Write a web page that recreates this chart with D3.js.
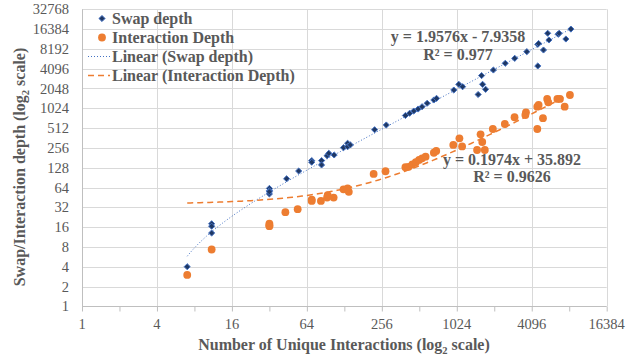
<!DOCTYPE html>
<html>
<head>
<meta charset="utf-8">
<script src="https://cdn.jsdelivr.net/npm/d3@7"></script>
<style>
  body { margin: 0; background: #fff; }
  svg { display: block; }
</style>
</head>
<body>
<div id="chart"></div>
<script>
// Swap depth data
const swapX = [7, 11, 11, 11, 32, 32, 32, 32, 44, 55, 70, 70, 84, 84, 93, 96, 106, 126, 136, 136, 143,
  224, 278, 396, 428, 462, 501, 539, 592, 670, 704, 969, 1063, 1140, 1620, 1650, 1520, 1745, 2015,
  2510, 2990, 3740, 4580, 4650, 4580, 5090, 5500, 5630, 6670, 6800, 7700, 8450];
const swapY = [4, 18, 16.5, 13, 62, 57, 51, 55, 87, 114, 164, 155, 164, 141, 195, 212, 200, 258, 301, 267, 284,
  484, 571, 795, 860, 930, 998, 1083, 1220, 1370, 1450, 1940, 2370, 2180, 3220, 2370, 1660, 1990, 3910,
  4950, 5890, 7430, 9620, 9900, 4510, 7880, 14150, 11200, 13680, 14150, 11580, 16400];

// Interaction depth data
const interX = [7, 11, 32, 32, 32, 43, 54, 70, 70, 83, 93, 94, 105, 126, 136, 139, 220, 274, 396, 420, 450,
  480, 510, 539, 575, 670, 700, 960, 1075, 1130, 1490, 1590, 1640, 1720, 1995, 2490, 2980, 3680, 3640,
  4540, 4650, 4540, 5040, 5450, 5560, 6580, 6900, 7530, 8300];
const interY = [3, 7.3, 18, 17, 16.5, 27, 30, 42, 40, 40, 45, 49, 45, 60, 62, 55, 103, 113, 130, 132, 144,
  155, 168, 178, 188, 216, 230, 284, 358, 270, 238, 412, 315, 238, 496, 591, 748, 890, 810,
  1083, 1150, 496, 724, 1420, 1262, 1420, 1420, 1083, 1630];

// Trendline coefficients [slope, intercept] and labels
const swapFit = [1.9576, -7.9358];
const interFit = [0.1974, 35.892];
const fitLabels = ["y = 1.9576x - 7.9358", "R\u00b2 = 0.977", "y = 0.1974x + 35.892", "R\u00b2 = 0.9626"];

// Tick labels
const xTicks = [1, 4, 16, 64, 256, 1024, 4096, 16384];
const yTicks = [1, 2, 4, 8, 16, 32, 64, 128, 256, 512, 1024, 2048, 4096, 8192, 16384, 32768];
const legendNames = ["Swap depth", "Interaction Depth", "Linear (Swap depth)", "Linear (Interaction Depth)"];

const width = 639, height = 355;
const textCol = "#595959";
const blue = "#4472C4", navy = "#1F3864", orange = "#ED7D31";

const svg = d3.select("#chart").append("svg")
  .attr("width", width)
  .attr("height", height)
  .attr("font-family", "'Liberation Serif', 'Times New Roman', serif");

// Scales
const x = d3.scaleLog().base(2).domain([1, 16384]).range([82, 606.7]);
const y = d3.scaleLog().base(2).domain([1, 32768]).range([306.3, 9.3]);

// Gridlines
const grid = svg.append("g").attr("stroke", "#D9D9D9").attr("stroke-width", 1);
grid.selectAll(".hgrid")
  .data(yTicks.slice(1))
  .join("line")
  .attr("x1", x(1)).attr("x2", x(16384))
  .attr("y1", d => Math.round(y(d)) + 0.5).attr("y2", d => Math.round(y(d)) + 0.5);
grid.selectAll(".vgrid")
  .data(xTicks.slice(1))
  .join("line")
  .attr("y1", y(1)).attr("y2", y(32768))
  .attr("x1", d => Math.round(x(d)) + 0.5).attr("x2", d => Math.round(x(d)) + 0.5);

// Axes
const xAxis = svg.append("g")
  .attr("transform", `translate(0,${Math.round(y(1)) + 0.5})`)
  .call(d3.axisBottom(x).tickValues(d3.range(0, 15).map(i => 2 ** i)).tickSize(5).tickFormat(""));
xAxis.select(".domain").attr("stroke", "#BFBFBF").attr("d", `M${x(1)},0H${x(16384)}`);
xAxis.selectAll(".tick line").attr("stroke", "#BFBFBF");

svg.append("line")
  .attr("x1", Math.round(x(1)) + 0.5).attr("x2", Math.round(x(1)) + 0.5)
  .attr("y1", y(1)).attr("y2", y(32768))
  .attr("stroke", "#BFBFBF");

svg.append("g")
  .attr("fill", textCol).attr("font-size", 14.5).attr("text-anchor", "middle")
  .selectAll("text")
  .data(xTicks)
  .join("text")
  .attr("x", d => x(d))
  .attr("y", 329)
  .text(d => d);

svg.append("g")
  .attr("fill", textCol).attr("font-size", 14.5).attr("text-anchor", "end")
  .selectAll("text")
  .data(yTicks)
  .join("text")
  .attr("x", 69)
  .attr("y", d => y(d) + 5)
  .text(d => d);

// Axis titles
const xTitle = svg.append("text")
  .attr("x", 344).attr("y", 350)
  .attr("text-anchor", "middle").attr("font-size", 16).attr("font-weight", "bold").attr("fill", textCol);
xTitle.append("tspan").text("Number of Unique Interactions (log");
xTitle.append("tspan").attr("font-size", 10.5).attr("dy", 4).text("2");
xTitle.append("tspan").attr("dy", -4).text(" scale)");

const yTitle = svg.append("text")
  .attr("transform", "translate(25,167) rotate(-90)")
  .attr("text-anchor", "middle").attr("font-size", 16).attr("font-weight", "bold").attr("fill", textCol);
yTitle.append("tspan").text("Swap/Interaction depth (log");
yTitle.append("tspan").attr("font-size", 10.5).attr("dy", 4).text("2");
yTitle.append("tspan").attr("dy", -4).text(" scale)");

// Trendlines
function trend(fit, xs) {
  const lo = d3.min(xs), hi = d3.max(xs);
  const n = 120;
  return d3.range(n + 1).map(i => {
    const xv = lo * Math.pow(hi / lo, i / n);
    return [xv, fit[0] * xv + fit[1]];
  });
}
const line = d3.line().x(d => x(d[0])).y(d => y(d[1]));

svg.append("path")
  .attr("d", line(trend(interFit, interX)))
  .attr("fill", "none").attr("stroke", orange).attr("stroke-width", 1.5)
  .attr("stroke-dasharray", "6,4");

svg.append("path")
  .attr("d", line(trend(swapFit, swapX)))
  .attr("fill", "none").attr("stroke", blue).attr("stroke-width", 1)
  .attr("stroke-dasharray", "1,2");

// Points
const diamond = d3.symbol().type(d3.symbolDiamond2).size(24);

svg.append("g")
  .selectAll("circle")
  .data(interX.map((d, i) => [d, interY[i]]))
  .join("circle")
  .attr("cx", d => x(d[0])).attr("cy", d => y(d[1]))
  .attr("r", 3.9)
  .attr("fill", orange);

svg.append("g")
  .selectAll("path")
  .data(swapX.map((d, i) => [d, swapY[i]]))
  .join("path")
  .attr("transform", d => `translate(${x(d[0])},${y(d[1])})`)
  .attr("d", diamond)
  .attr("fill", navy).attr("stroke", blue).attr("stroke-width", 1);

// Equation labels
const eq = svg.append("g")
  .attr("font-size", 16).attr("font-weight", "bold").attr("fill", textCol).attr("text-anchor", "middle");
eq.append("text").attr("x", 458).attr("y", 42).text(fitLabels[0]);
eq.append("text").attr("x", 458).attr("y", 60).text(fitLabels[1]);
eq.append("text").attr("x", 512).attr("y", 165).text(fitLabels[2]);
eq.append("text").attr("x", 512).attr("y", 182).text(fitLabels[3]);

// Legend
const legend = svg.append("g")
  .attr("font-size", 16).attr("font-weight", "bold").attr("fill", textCol);
const rows = legend.selectAll("g")
  .data(legendNames)
  .join("g")
  .attr("transform", (d, i) => `translate(0,${18.5 + i * 19})`);
rows.append("text").attr("x", 112).attr("y", 5).text(d => d);

rows.filter((d, i) => i === 0).append("path")
  .attr("transform", "translate(102,0)")
  .attr("d", diamond).attr("fill", navy).attr("stroke", blue);
rows.filter((d, i) => i === 1).append("circle")
  .attr("cx", 102).attr("r", 3.9).attr("fill", orange);
rows.filter((d, i) => i === 2).append("line")
  .attr("x1", 88).attr("x2", 110).attr("stroke", blue).attr("stroke-dasharray", "1,2");
rows.filter((d, i) => i === 3).append("line")
  .attr("x1", 88).attr("x2", 110).attr("stroke", orange).attr("stroke-width", 1.5).attr("stroke-dasharray", "6,4");
</script>
</body>
</html>
